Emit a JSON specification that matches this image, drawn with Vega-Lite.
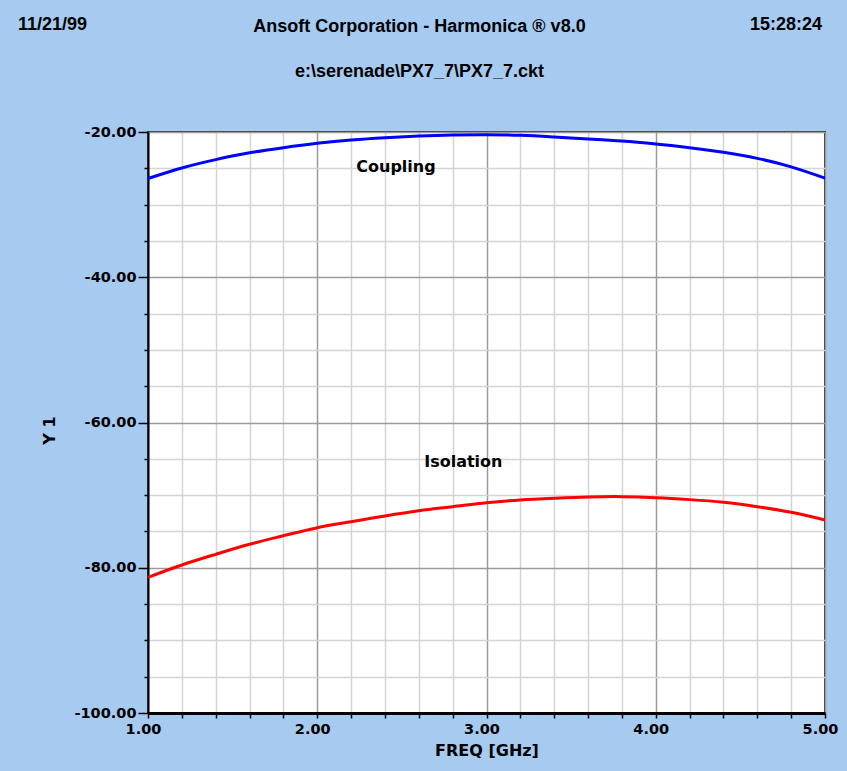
{
  "$schema": "https://vega.github.io/schema/vega-lite/v6.json",
  "autosize": {"type": "none"},
  "width": 677,
  "height": 581,
  "padding": {"left": 148, "top": 132, "right": 22, "bottom": 58},
  "background": "#A6CAF0",
  "title": {
    "text": "Ansoft Corporation - Harmonica ® v8.0",
    "subtitle": "e:\\serenade\\PX7_7\\PX7_7.ckt",
    "anchor": "middle",
    "frame": "group",
    "dx": -67,
    "offset": -65,
    "font": "Liberation Sans",
    "fontSize": 18,
    "fontWeight": "bold",
    "color": "black",
    "subtitleFont": "Liberation Sans",
    "subtitleFontSize": 18,
    "subtitleFontWeight": "bold",
    "subtitleColor": "black",
    "subtitlePadding": 27
  },
  "datasets": {
    "curves": [
      {"series": "Coupling", "freq": 1.0, "dB": -26.4},
      {"series": "Coupling", "freq": 1.2, "dB": -24.95},
      {"series": "Coupling", "freq": 1.4, "dB": -23.8},
      {"series": "Coupling", "freq": 1.6, "dB": -22.87},
      {"series": "Coupling", "freq": 1.8, "dB": -22.16},
      {"series": "Coupling", "freq": 2.0, "dB": -21.56},
      {"series": "Coupling", "freq": 2.2, "dB": -21.1},
      {"series": "Coupling", "freq": 2.4, "dB": -20.78},
      {"series": "Coupling", "freq": 2.6, "dB": -20.55},
      {"series": "Coupling", "freq": 2.8, "dB": -20.41},
      {"series": "Coupling", "freq": 3.0, "dB": -20.38},
      {"series": "Coupling", "freq": 3.2, "dB": -20.45},
      {"series": "Coupling", "freq": 3.4, "dB": -20.69},
      {"series": "Coupling", "freq": 3.6, "dB": -20.96},
      {"series": "Coupling", "freq": 3.8, "dB": -21.24},
      {"series": "Coupling", "freq": 4.0, "dB": -21.65},
      {"series": "Coupling", "freq": 4.2, "dB": -22.16},
      {"series": "Coupling", "freq": 4.4, "dB": -22.8},
      {"series": "Coupling", "freq": 4.6, "dB": -23.63},
      {"series": "Coupling", "freq": 4.8, "dB": -24.8},
      {"series": "Coupling", "freq": 5.0, "dB": -26.35},
      {"series": "Isolation", "freq": 1.0, "dB": -81.32},
      {"series": "Isolation", "freq": 1.2, "dB": -79.62},
      {"series": "Isolation", "freq": 1.4, "dB": -78.15},
      {"series": "Isolation", "freq": 1.6, "dB": -76.77},
      {"series": "Isolation", "freq": 1.8, "dB": -75.59},
      {"series": "Isolation", "freq": 2.0, "dB": -74.48},
      {"series": "Isolation", "freq": 2.2, "dB": -73.66},
      {"series": "Isolation", "freq": 2.4, "dB": -72.87},
      {"series": "Isolation", "freq": 2.6, "dB": -72.14},
      {"series": "Isolation", "freq": 2.8, "dB": -71.59},
      {"series": "Isolation", "freq": 3.0, "dB": -71.05},
      {"series": "Isolation", "freq": 3.2, "dB": -70.67},
      {"series": "Isolation", "freq": 3.4, "dB": -70.44},
      {"series": "Isolation", "freq": 3.6, "dB": -70.26},
      {"series": "Isolation", "freq": 3.8, "dB": -70.21},
      {"series": "Isolation", "freq": 4.0, "dB": -70.35},
      {"series": "Isolation", "freq": 4.2, "dB": -70.62},
      {"series": "Isolation", "freq": 4.4, "dB": -70.99},
      {"series": "Isolation", "freq": 4.6, "dB": -71.59},
      {"series": "Isolation", "freq": 4.8, "dB": -72.37},
      {"series": "Isolation", "freq": 5.0, "dB": -73.42}
    ],
    "curveLabels": [
      {"label": "Coupling", "freq": 2.465, "dB": -24.8},
      {"label": "Isolation", "freq": 2.863, "dB": -65.5}
    ],
    "headerLeft": [
      {"label": "11/21/99", "freq": 0.232, "dB": -5.27}
    ],
    "headerRight": [
      {"label": "15:28:24", "freq": 4.982, "dB": -5.27}
    ]
  },
  "encoding": {
    "x": {
      "field": "freq",
      "type": "quantitative",
      "scale": {"domain": [1, 5], "nice": false, "zero": false},
      "axis": {
        "title": "FREQ [GHz]",
        "values": [1, 1.2, 1.4, 1.6, 1.8, 2, 2.2, 2.4, 2.6, 2.8, 3, 3.2, 3.4, 3.6, 3.8, 4, 4.2, 4.4, 4.6, 4.8, 5],
        "labelExpr": "abs(datum.value - round(datum.value)) < 0.001 ? format(datum.value, '.2f') : ''",
        "labelFont": "DejaVu Sans",
        "labelFontWeight": "bold",
        "labelFontSize": 14.5,
        "labelColor": "black",
        "labelOffset": -5,
        "labelPadding": 4,
        "labelOverlap": false,
        "labelFlush": false,
        "labelBound": false,
        "domainColor": "black",
        "domainWidth": 3,
        "tickColor": "black",
        "tickSize": 5,
        "tickWidth": 1.5,
        "gridColor": {"condition": {"test": "abs(datum.value - round(datum.value)) < 0.001", "value": "#9a9a9a"}, "value": "#d4d4d4"},
        "gridWidth": 1.5,
        "titleFont": "DejaVu Sans",
        "titleFontSize": 16,
        "titleFontWeight": "bold",
        "titleColor": "black",
        "titlePadding": 7
      }
    },
    "y": {
      "field": "dB",
      "type": "quantitative",
      "scale": {"domain": [-100, -20], "nice": false, "zero": false},
      "axis": {
        "title": "Y 1",
        "values": [-100, -95, -90, -85, -80, -75, -70, -65, -60, -55, -50, -45, -40, -35, -30, -25, -20],
        "labelExpr": "datum.value % 20 == 0 ? replace(format(datum.value, '.2f'), '−', '-') : ''",
        "labelFont": "DejaVu Sans",
        "labelFontWeight": "bold",
        "labelFontSize": 14.5,
        "labelColor": "black",
        "labelPadding": 2,
        "labelOverlap": false,
        "labelFlush": false,
        "labelBound": false,
        "domainColor": "black",
        "domainWidth": 2,
        "tickColor": "black",
        "tickSize": {"condition": {"test": "datum.value % 20 == 0", "value": 10}, "value": 4},
        "tickWidth": 1.5,
        "gridColor": {"condition": {"test": "datum.value % 20 == 0", "value": "#9a9a9a"}, "value": "#d4d4d4"},
        "gridWidth": 1.5,
        "titleFont": "DejaVu Sans",
        "titleFontSize": 16,
        "titleFontWeight": "bold",
        "titleColor": "black",
        "titleAngle": -90,
        "titleX": -99,
        "titleY": 298,
        "titleAlign": "center",
        "titleBaseline": "middle"
      }
    }
  },
  "layer": [
    {
      "data": {"name": "curves"},
      "mark": {"type": "line", "strokeWidth": 3, "interpolate": "natural"},
      "encoding": {
        "color": {
          "field": "series",
          "type": "nominal",
          "scale": {"domain": ["Coupling", "Isolation"], "range": ["#0000FF", "#FF0000"]},
          "legend": null
        }
      }
    },
    {
      "data": {"name": "curveLabels"},
      "mark": {"type": "text", "align": "center", "baseline": "middle", "font": "DejaVu Sans", "fontWeight": "bold", "fontSize": 16, "color": "black"},
      "encoding": {"text": {"field": "label"}}
    },
    {
      "data": {"name": "headerLeft"},
      "mark": {"type": "text", "align": "left", "baseline": "middle", "font": "Liberation Sans", "fontWeight": "bold", "fontSize": 18, "color": "black"},
      "encoding": {"text": {"field": "label"}}
    },
    {
      "data": {"name": "headerRight"},
      "mark": {"type": "text", "align": "right", "baseline": "middle", "font": "Liberation Sans", "fontWeight": "bold", "fontSize": 18, "color": "black"},
      "encoding": {"text": {"field": "label"}}
    }
  ],
  "config": {
    "view": {"fill": "white", "stroke": "#333333", "strokeWidth": 2}
  }
}
